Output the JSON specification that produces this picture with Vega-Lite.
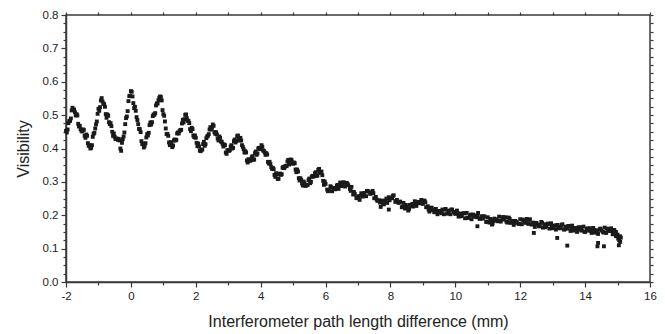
{
  "$schema": "https://vega.github.io/schema/vega-lite/v6.json",
  "autosize": "none",
  "width": 584,
  "height": 267,
  "padding": {"left": 66, "top": 15, "right": 15, "bottom": 52},
  "background": "white",
  "config": {
    "view": {"stroke": "#3a3a3a", "strokeWidth": 1.5},
    "font": "Liberation Sans",
    "axis": {
      "domainColor": "#3a3a3a",
      "domainWidth": 1.5,
      "tickColor": "#3a3a3a",
      "tickWidth": 1.2,
      "grid": false,
      "labelColor": "#222",
      "labelFont": "Liberation Sans",
      "labelFontSize": 11.5,
      "titleFont": "Liberation Sans",
      "titleFontSize": 16,
      "titleFontWeight": "normal",
      "titleColor": "#222"
    }
  },
  "data": {
    "values": [
      {"x":-2.00,"y":0.453},{"x":-1.95,"y":0.457},{"x":-1.90,"y":0.482},{"x":-1.85,"y":0.490},{"x":-1.80,"y":0.522},{"x":-1.75,"y":0.517},{"x":-1.70,"y":0.499},{"x":-1.65,"y":0.499},{"x":-1.60,"y":0.466},{"x":-1.55,"y":0.458},
      {"x":-1.50,"y":0.451},{"x":-1.45,"y":0.456},{"x":-1.40,"y":0.432},{"x":-1.35,"y":0.438},{"x":-1.30,"y":0.408},{"x":-1.25,"y":0.400},{"x":-1.20,"y":0.410},{"x":-1.15,"y":0.444},{"x":-1.10,"y":0.460},{"x":-1.05,"y":0.481},
      {"x":-1.00,"y":0.519},{"x":-0.95,"y":0.524},{"x":-0.90,"y":0.551},{"x":-0.85,"y":0.535},{"x":-0.80,"y":0.525},{"x":-0.75,"y":0.492},{"x":-0.70,"y":0.498},{"x":-0.65,"y":0.473},{"x":-0.60,"y":0.467},{"x":-0.55,"y":0.438},
      {"x":-0.50,"y":0.435},{"x":-0.45,"y":0.430},{"x":-0.40,"y":0.426},{"x":-0.35,"y":0.424},{"x":-0.30,"y":0.393},{"x":-0.25,"y":0.428},{"x":-0.20,"y":0.448},{"x":-0.15,"y":0.491},{"x":-0.10,"y":0.512},{"x":-0.05,"y":0.557},
      {"x":0.00,"y":0.572},{"x":0.05,"y":0.556},{"x":0.10,"y":0.521},{"x":0.15,"y":0.513},{"x":0.20,"y":0.485},{"x":0.25,"y":0.459},{"x":0.30,"y":0.449},{"x":0.35,"y":0.413},{"x":0.40,"y":0.403},{"x":0.45,"y":0.416},
      {"x":0.50,"y":0.443},{"x":0.55,"y":0.447},{"x":0.60,"y":0.478},{"x":0.65,"y":0.479},{"x":0.70,"y":0.502},{"x":0.75,"y":0.506},{"x":0.80,"y":0.535},{"x":0.85,"y":0.545},{"x":0.90,"y":0.556},{"x":0.95,"y":0.544},
      {"x":1.00,"y":0.503},{"x":1.05,"y":0.481},{"x":1.10,"y":0.443},{"x":1.15,"y":0.438},{"x":1.20,"y":0.410},{"x":1.25,"y":0.413},{"x":1.30,"y":0.409},{"x":1.35,"y":0.427},{"x":1.40,"y":0.426},{"x":1.45,"y":0.448},
      {"x":1.50,"y":0.452},{"x":1.55,"y":0.456},{"x":1.60,"y":0.486},{"x":1.65,"y":0.488},{"x":1.70,"y":0.502},{"x":1.75,"y":0.483},{"x":1.80,"y":0.476},{"x":1.85,"y":0.452},{"x":1.90,"y":0.458},{"x":1.95,"y":0.434},
      {"x":2.00,"y":0.432},{"x":2.05,"y":0.407},{"x":2.10,"y":0.406},{"x":2.15,"y":0.392},{"x":2.20,"y":0.397},{"x":2.25,"y":0.420},{"x":2.30,"y":0.413},{"x":2.35,"y":0.436},{"x":2.40,"y":0.443},{"x":2.45,"y":0.464},
      {"x":2.50,"y":0.462},{"x":2.55,"y":0.468},{"x":2.60,"y":0.444},{"x":2.65,"y":0.442},{"x":2.70,"y":0.424},{"x":2.75,"y":0.432},{"x":2.80,"y":0.420},{"x":2.85,"y":0.406},{"x":2.90,"y":0.410},{"x":2.95,"y":0.384},
      {"x":3.00,"y":0.394},{"x":3.05,"y":0.395},{"x":3.10,"y":0.410},{"x":3.15,"y":0.402},{"x":3.20,"y":0.427},{"x":3.25,"y":0.422},{"x":3.30,"y":0.439},{"x":3.35,"y":0.424},{"x":3.40,"y":0.424},{"x":3.45,"y":0.405},
      {"x":3.50,"y":0.388},{"x":3.55,"y":0.388},{"x":3.60,"y":0.358},{"x":3.65,"y":0.365},{"x":3.70,"y":0.365},{"x":3.75,"y":0.377},{"x":3.80,"y":0.367},{"x":3.85,"y":0.391},{"x":3.90,"y":0.385},{"x":3.95,"y":0.402},
      {"x":4.00,"y":0.399},{"x":4.05,"y":0.405},{"x":4.10,"y":0.393},{"x":4.15,"y":0.381},{"x":4.20,"y":0.382},{"x":4.25,"y":0.355},{"x":4.30,"y":0.353},{"x":4.35,"y":0.339},{"x":4.40,"y":0.338},{"x":4.45,"y":0.315},
      {"x":4.50,"y":0.322},{"x":4.55,"y":0.309},{"x":4.60,"y":0.325},{"x":4.65,"y":0.323},{"x":4.70,"y":0.345},{"x":4.75,"y":0.346},{"x":4.80,"y":0.347},{"x":4.85,"y":0.366},{"x":4.90,"y":0.356},{"x":4.95,"y":0.366},
      {"x":5.00,"y":0.354},{"x":5.05,"y":0.356},{"x":5.10,"y":0.329},{"x":5.15,"y":0.331},{"x":5.20,"y":0.304},{"x":5.25,"y":0.306},{"x":5.30,"y":0.289},{"x":5.35,"y":0.296},{"x":5.40,"y":0.289},{"x":5.45,"y":0.291},
      {"x":5.50,"y":0.310},{"x":5.55,"y":0.300},{"x":5.60,"y":0.318},{"x":5.65,"y":0.317},{"x":5.70,"y":0.329},{"x":5.75,"y":0.319},{"x":5.80,"y":0.339},{"x":5.85,"y":0.329},{"x":5.90,"y":0.320},{"x":5.95,"y":0.291},
      {"x":6.00,"y":0.294},{"x":6.05,"y":0.277},{"x":6.10,"y":0.274},{"x":6.15,"y":0.287},{"x":6.20,"y":0.272},{"x":6.25,"y":0.282},{"x":6.30,"y":0.278},{"x":6.35,"y":0.289},{"x":6.40,"y":0.279},{"x":6.45,"y":0.298},
      {"x":6.50,"y":0.288},{"x":6.55,"y":0.299},{"x":6.60,"y":0.286},{"x":6.65,"y":0.297},{"x":6.70,"y":0.290},{"x":6.75,"y":0.279},{"x":6.80,"y":0.285},{"x":6.85,"y":0.262},{"x":6.90,"y":0.264},{"x":6.95,"y":0.252},
      {"x":7.00,"y":0.257},{"x":7.05,"y":0.246},{"x":7.10,"y":0.266},{"x":7.15,"y":0.256},{"x":7.20,"y":0.267},{"x":7.25,"y":0.257},{"x":7.30,"y":0.273},{"x":7.35,"y":0.269},{"x":7.40,"y":0.266},{"x":7.45,"y":0.273},
      {"x":7.50,"y":0.251},{"x":7.55,"y":0.255},{"x":7.60,"y":0.243},{"x":7.65,"y":0.245},{"x":7.70,"y":0.225},{"x":7.75,"y":0.244},{"x":7.80,"y":0.233},{"x":7.85,"y":0.244},{"x":7.90,"y":0.237},{"x":7.95,"y":0.254},
      {"x":8.00,"y":0.252},{"x":8.05,"y":0.251},{"x":8.10,"y":0.260},{"x":8.15,"y":0.240},{"x":8.20,"y":0.246},{"x":8.25,"y":0.237},{"x":8.30,"y":0.241},{"x":8.35,"y":0.224},{"x":8.40,"y":0.237},{"x":8.45,"y":0.220},
      {"x":8.50,"y":0.225},{"x":8.55,"y":0.214},{"x":8.60,"y":0.231},{"x":8.65,"y":0.228},{"x":8.70,"y":0.226},{"x":8.75,"y":0.242},{"x":8.80,"y":0.228},{"x":8.85,"y":0.240},{"x":8.90,"y":0.236},{"x":8.95,"y":0.246},
      {"x":9.00,"y":0.234},{"x":9.05,"y":0.244},{"x":9.10,"y":0.224},{"x":9.15,"y":0.227},{"x":9.20,"y":0.211},{"x":9.25,"y":0.223},{"x":9.30,"y":0.215},{"x":9.35,"y":0.209},{"x":9.40,"y":0.219},{"x":9.45,"y":0.203},
      {"x":9.50,"y":0.213},{"x":9.55,"y":0.209},{"x":9.60,"y":0.217},{"x":9.65,"y":0.203},{"x":9.70,"y":0.219},{"x":9.75,"y":0.205},{"x":9.80,"y":0.214},{"x":9.85,"y":0.203},{"x":9.90,"y":0.217},{"x":9.95,"y":0.210},
      {"x":10.00,"y":0.204},{"x":10.05,"y":0.214},{"x":10.10,"y":0.196},{"x":10.15,"y":0.205},{"x":10.20,"y":0.199},{"x":10.25,"y":0.206},{"x":10.30,"y":0.191},{"x":10.35,"y":0.207},{"x":10.40,"y":0.192},{"x":10.45,"y":0.199},
      {"x":10.50,"y":0.188},{"x":10.55,"y":0.202},{"x":10.60,"y":0.198},{"x":10.65,"y":0.194},{"x":10.70,"y":0.207},{"x":10.75,"y":0.189},{"x":10.80,"y":0.197},{"x":10.85,"y":0.190},{"x":10.90,"y":0.196},{"x":10.95,"y":0.180},
      {"x":11.00,"y":0.194},{"x":11.05,"y":0.178},{"x":11.10,"y":0.185},{"x":11.15,"y":0.175},{"x":11.20,"y":0.190},{"x":11.25,"y":0.185},{"x":11.30,"y":0.182},{"x":11.35,"y":0.196},{"x":11.40,"y":0.181},{"x":11.45,"y":0.191},
      {"x":11.50,"y":0.187},{"x":11.55,"y":0.194},{"x":11.60,"y":0.178},{"x":11.65,"y":0.193},{"x":11.70,"y":0.177},{"x":11.75,"y":0.183},{"x":11.80,"y":0.171},{"x":11.85,"y":0.183},{"x":11.90,"y":0.177},{"x":11.95,"y":0.174},
      {"x":12.00,"y":0.188},{"x":12.05,"y":0.173},{"x":12.10,"y":0.184},{"x":12.15,"y":0.180},{"x":12.20,"y":0.189},{"x":12.25,"y":0.174},{"x":12.30,"y":0.188},{"x":12.35,"y":0.172},{"x":12.40,"y":0.178},{"x":12.45,"y":0.165},
      {"x":12.50,"y":0.177},{"x":12.55,"y":0.172},{"x":12.60,"y":0.167},{"x":12.65,"y":0.180},{"x":12.70,"y":0.163},{"x":12.75,"y":0.173},{"x":12.80,"y":0.167},{"x":12.85,"y":0.175},{"x":12.90,"y":0.160},{"x":12.95,"y":0.176},
      {"x":13.00,"y":0.161},{"x":13.05,"y":0.169},{"x":13.10,"y":0.157},{"x":13.15,"y":0.171},{"x":13.20,"y":0.165},{"x":13.25,"y":0.161},{"x":13.30,"y":0.173},{"x":13.35,"y":0.157},{"x":13.40,"y":0.166},{"x":13.45,"y":0.160},
      {"x":13.50,"y":0.168},{"x":13.55,"y":0.153},{"x":13.60,"y":0.169},{"x":13.65,"y":0.154},{"x":13.70,"y":0.162},{"x":13.75,"y":0.150},{"x":13.80,"y":0.164},{"x":13.85,"y":0.158},{"x":13.90,"y":0.154},{"x":13.95,"y":0.166},
      {"x":14.00,"y":0.150},{"x":14.05,"y":0.159},{"x":14.10,"y":0.154},{"x":14.15,"y":0.161},{"x":14.20,"y":0.147},{"x":14.25,"y":0.162},{"x":14.30,"y":0.148},{"x":14.35,"y":0.155},{"x":14.40,"y":0.144},{"x":14.45,"y":0.158},
      {"x":14.50,"y":0.154},{"x":14.55,"y":0.150},{"x":14.60,"y":0.163},{"x":14.65,"y":0.147},{"x":14.70,"y":0.158},{"x":14.75,"y":0.153},{"x":14.80,"y":0.161},{"x":14.85,"y":0.143},{"x":14.90,"y":0.156},{"x":14.95,"y":0.138},
      {"x":15.00,"y":0.142},{"x":15.05,"y":0.125},{"x":15.10,"y":0.133},
      {"x":10.68,"y":0.167},{"x":11.13,"y":0.172},{"x":12.42,"y":0.147},{"x":13.14,"y":0.132},{"x":13.45,"y":0.109},{"x":14.38,"y":0.107},{"x":14.40,"y":0.117},{"x":14.58,"y":0.107},{"x":15.04,"y":0.110},{"x":15.08,"y":0.120},{"x":7.95,"y":0.217},{"x":15.02,"y":0.130},{"x":14.95,"y":0.150},
      {"x":-1.975,"y":0.448},{"x":-1.925,"y":0.476},{"x":-1.875,"y":0.483},{"x":-1.825,"y":0.514},{"x":-1.775,"y":0.515},{"x":-1.725,"y":0.509},{"x":-1.675,"y":0.503},{"x":-1.625,"y":0.474},{"x":-1.575,"y":0.468},{"x":-1.525,"y":0.453},
      {"x":-1.475,"y":0.457},{"x":-1.425,"y":0.438},{"x":-1.375,"y":0.442},{"x":-1.325,"y":0.416},{"x":-1.275,"y":0.410},{"x":-1.225,"y":0.402},{"x":-1.175,"y":0.435},{"x":-1.125,"y":0.447},{"x":-1.075,"y":0.472},{"x":-1.025,"y":0.504},
      {"x":-0.975,"y":0.513},{"x":-0.925,"y":0.544},{"x":-0.875,"y":0.541},{"x":-0.825,"y":0.533},{"x":-0.775,"y":0.503},{"x":-0.725,"y":0.502},{"x":-0.675,"y":0.479},{"x":-0.625,"y":0.476},{"x":-0.575,"y":0.450},{"x":-0.525,"y":0.445},
      {"x":-0.475,"y":0.428},{"x":-0.425,"y":0.429},{"x":-0.375,"y":0.429},{"x":-0.325,"y":0.400},{"x":-0.275,"y":0.417},{"x":-0.225,"y":0.436},{"x":-0.175,"y":0.473},{"x":-0.125,"y":0.496},{"x":-0.075,"y":0.542},{"x":-0.025,"y":0.558},
      {"x":0.025,"y":0.570},{"x":0.075,"y":0.536},{"x":0.125,"y":0.525},{"x":0.175,"y":0.494},{"x":0.225,"y":0.473},{"x":0.275,"y":0.458},{"x":0.325,"y":0.422},{"x":0.375,"y":0.414},{"x":0.425,"y":0.408},{"x":0.475,"y":0.433},
      {"x":0.525,"y":0.439},{"x":0.575,"y":0.470},{"x":0.625,"y":0.472},{"x":0.675,"y":0.497},{"x":0.725,"y":0.501},{"x":0.775,"y":0.529},{"x":0.825,"y":0.535},{"x":0.875,"y":0.552},{"x":0.925,"y":0.554},{"x":0.975,"y":0.515},
      {"x":1.025,"y":0.498},{"x":1.075,"y":0.460},{"x":1.125,"y":0.444},{"x":1.175,"y":0.418},{"x":1.225,"y":0.419},{"x":1.275,"y":0.404},{"x":1.325,"y":0.424},{"x":1.375,"y":0.424},{"x":1.425,"y":0.445},{"x":1.475,"y":0.445},
      {"x":1.525,"y":0.455},{"x":1.575,"y":0.475},{"x":1.625,"y":0.478},{"x":1.675,"y":0.501},{"x":1.725,"y":0.491},{"x":1.775,"y":0.483},{"x":1.825,"y":0.458},{"x":1.875,"y":0.462},{"x":1.925,"y":0.439},{"x":1.975,"y":0.439},
      {"x":2.025,"y":0.417},{"x":2.075,"y":0.415},{"x":2.125,"y":0.394},{"x":2.175,"y":0.396},{"x":2.225,"y":0.413},{"x":2.275,"y":0.408},{"x":2.325,"y":0.431},{"x":2.375,"y":0.438},{"x":2.425,"y":0.457},{"x":2.475,"y":0.457},
      {"x":2.525,"y":0.472},{"x":2.575,"y":0.449},{"x":2.625,"y":0.449},{"x":2.675,"y":0.430},{"x":2.725,"y":0.436},{"x":2.775,"y":0.421},{"x":2.825,"y":0.414},{"x":2.875,"y":0.412},{"x":2.925,"y":0.388},{"x":2.975,"y":0.395},
      {"x":3.025,"y":0.393},{"x":3.075,"y":0.406},{"x":3.125,"y":0.400},{"x":3.175,"y":0.422},{"x":3.225,"y":0.418},{"x":3.275,"y":0.437},{"x":3.325,"y":0.429},{"x":3.375,"y":0.432},{"x":3.425,"y":0.410},{"x":3.475,"y":0.398},
      {"x":3.525,"y":0.392},{"x":3.575,"y":0.364},{"x":3.625,"y":0.368},{"x":3.675,"y":0.363},{"x":3.725,"y":0.374},{"x":3.775,"y":0.366},{"x":3.825,"y":0.386},{"x":3.875,"y":0.381},{"x":3.925,"y":0.400},{"x":3.975,"y":0.398},
      {"x":4.025,"y":0.410},{"x":4.075,"y":0.394},{"x":4.125,"y":0.388},{"x":4.175,"y":0.386},{"x":4.225,"y":0.360},{"x":4.275,"y":0.360},{"x":4.325,"y":0.344},{"x":4.375,"y":0.342},{"x":4.425,"y":0.321},{"x":4.475,"y":0.326},
      {"x":4.525,"y":0.309},{"x":4.575,"y":0.323},{"x":4.625,"y":0.321},{"x":4.675,"y":0.342},{"x":4.725,"y":0.341},{"x":4.775,"y":0.348},{"x":4.825,"y":0.361},{"x":4.875,"y":0.352},{"x":4.925,"y":0.367},{"x":4.975,"y":0.358},
      {"x":5.025,"y":0.358},{"x":5.075,"y":0.337},{"x":5.125,"y":0.337},{"x":5.175,"y":0.311},{"x":5.225,"y":0.311},{"x":5.275,"y":0.295},{"x":5.325,"y":0.301},{"x":5.375,"y":0.288},{"x":5.425,"y":0.291},{"x":5.475,"y":0.305},
      {"x":5.525,"y":0.296},{"x":5.575,"y":0.315},{"x":5.625,"y":0.316},{"x":5.675,"y":0.326},{"x":5.725,"y":0.318},{"x":5.775,"y":0.336},{"x":5.825,"y":0.327},{"x":5.875,"y":0.331},{"x":5.925,"y":0.303},{"x":5.975,"y":0.301},
      {"x":6.075,"y":0.272},{"x":6.175,"y":0.284},{"x":6.275,"y":0.278},{"x":6.375,"y":0.291},{"x":6.475,"y":0.288},{"x":6.575,"y":0.297},{"x":6.675,"y":0.294},{"x":6.775,"y":0.273},{"x":6.875,"y":0.270},{"x":6.975,"y":0.251},
      {"x":7.075,"y":0.258},{"x":7.175,"y":0.259},{"x":7.275,"y":0.273},{"x":7.375,"y":0.264},{"x":7.475,"y":0.266},{"x":7.575,"y":0.247},{"x":7.675,"y":0.238},{"x":7.775,"y":0.233},{"x":7.875,"y":0.250},{"x":7.975,"y":0.245},
      {"x":8.075,"y":0.258},{"x":8.175,"y":0.243},{"x":8.275,"y":0.239},{"x":8.375,"y":0.226},{"x":8.475,"y":0.231},{"x":8.575,"y":0.219},{"x":8.675,"y":0.234},{"x":8.775,"y":0.232},{"x":8.875,"y":0.240},{"x":8.975,"y":0.236},
      {"x":9.075,"y":0.239},{"x":9.175,"y":0.217},{"x":9.275,"y":0.222},{"x":9.375,"y":0.210},{"x":9.475,"y":0.212},{"x":9.575,"y":0.206},{"x":9.675,"y":0.217},{"x":9.775,"y":0.206},{"x":9.875,"y":0.217},{"x":9.975,"y":0.207},
      {"x":10.075,"y":0.206},{"x":10.175,"y":0.197},{"x":10.275,"y":0.206},{"x":10.375,"y":0.193},{"x":10.475,"y":0.202},{"x":10.575,"y":0.196},{"x":10.675,"y":0.200},{"x":10.775,"y":0.190},{"x":10.875,"y":0.197},{"x":10.975,"y":0.181},
      {"x":11.075,"y":0.189},{"x":11.175,"y":0.183},{"x":11.275,"y":0.188},{"x":11.375,"y":0.183},{"x":11.475,"y":0.195},{"x":11.575,"y":0.181},{"x":11.675,"y":0.189},{"x":11.775,"y":0.179},{"x":11.875,"y":0.180},{"x":11.975,"y":0.174},
      {"x":12.075,"y":0.187},{"x":12.175,"y":0.177},{"x":12.275,"y":0.186},{"x":12.375,"y":0.175},{"x":12.475,"y":0.175},{"x":12.575,"y":0.167},{"x":12.675,"y":0.177},{"x":12.775,"y":0.164},{"x":12.875,"y":0.174},{"x":12.975,"y":0.166},
      {"x":13.075,"y":0.169},{"x":13.175,"y":0.161},{"x":13.275,"y":0.171},{"x":13.375,"y":0.158},{"x":13.475,"y":0.167},{"x":13.575,"y":0.159},{"x":13.675,"y":0.162},{"x":13.775,"y":0.154},{"x":13.875,"y":0.164},{"x":13.975,"y":0.151},
      {"x":14.075,"y":0.161},{"x":14.175,"y":0.153},{"x":14.275,"y":0.156},{"x":14.375,"y":0.148},{"x":14.475,"y":0.160},{"x":14.575,"y":0.148},{"x":14.675,"y":0.160},{"x":14.775,"y":0.153},{"x":14.875,"y":0.152},{"x":14.975,"y":0.137},
      {"x":15.075,"y":0.137}
    ]
  },
  "layer": [
    {
      "mark": {"type": "square", "size": 15, "color": "#1a1a1a", "opacity": 1},
      "encoding": {
        "x": {
          "field": "x", "type": "quantitative",
          "scale": {"domain": [-2, 16], "nice": false, "zero": false},
          "axis": {
            "orient": "bottom",
            "title": "Interferometer path length difference (mm)",
            "values": [-2,-1,0,1,2,3,4,5,6,7,8,9,10,11,12,13,14,15,16],
            "labelExpr": "datum.value % 2 === 0 ? '' + datum.value : ''",
            "tickSize": {"condition": {"test": "datum.value % 2 === 0", "value": 5}, "value": 3},
            "labelPadding": 3,
            "titlePadding": 12,
            "labelFlush": false
          }
        },
        "y": {
          "field": "y", "type": "quantitative",
          "scale": {"domain": [0, 0.8], "nice": false, "zero": false},
          "axis": {
            "orient": "left",
            "title": "Visibility",
            "values": [0,0.025,0.05,0.075,0.1,0.125,0.15,0.175,0.2,0.225,0.25,0.275,0.3,0.325,0.35,0.375,0.4,0.425,0.45,0.475,0.5,0.525,0.55,0.575,0.6,0.625,0.65,0.675,0.7,0.725,0.75,0.775,0.8],
            "labelExpr": "abs(datum.value * 10 - round(datum.value * 10)) < 0.001 ? format(datum.value, '.1f') : ''",
            "tickSize": {"condition": {"test": "abs(datum.value * 10 - round(datum.value * 10)) < 0.001", "value": 5}, "value": 3},
            "labelPadding": 3,
            "titlePadding": 11,
            "labelFlush": false
          }
        }
      }
    },
    {
      "mark": {"type": "square", "size": 15, "color": "#1a1a1a", "opacity": 0},
      "encoding": {
        "x": {
          "field": "x", "type": "quantitative",
          "axis": {
            "orient": "top",
            "title": null,
            "labels": false,
            "domain": false,
            "values": [-2,-1,0,1,2,3,4,5,6,7,8,9,10,11,12,13,14,15,16],
            "tickSize": 3
          }
        },
        "y": {
          "field": "y", "type": "quantitative",
          "axis": {
            "orient": "right",
            "title": null,
            "labels": false,
            "domain": false,
            "values": [0,0.025,0.05,0.075,0.1,0.125,0.15,0.175,0.2,0.225,0.25,0.275,0.3,0.325,0.35,0.375,0.4,0.425,0.45,0.475,0.5,0.525,0.55,0.575,0.6,0.625,0.65,0.675,0.7,0.725,0.75,0.775,0.8],
            "tickSize": 3
          }
        }
      }
    }
  ],
  "resolve": {"axis": {"x": "independent", "y": "independent"}}
}
